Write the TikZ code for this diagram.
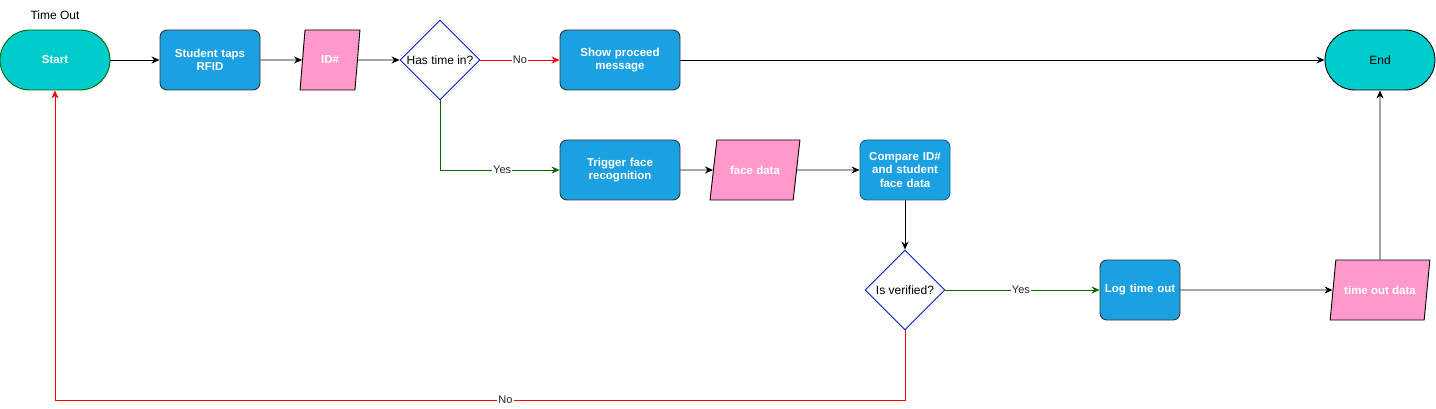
\documentclass[tikz,border=0pt]{standalone}
\usepackage{fontspec}
\setmainfont{Liberation Sans}
\usetikzlibrary{shapes.geometric,arrows.meta}
\definecolor{termfill}{HTML}{00CCCC}
\definecolor{procfill}{HTML}{1BA1E2}
\definecolor{iofill}{HTML}{FF99CC}
\definecolor{decline}{HTML}{001DBC}
\definecolor{yesline}{HTML}{006600}
\tikzset{
  term/.style={draw=black,fill=termfill,rounded corners=30pt,minimum width=110pt,minimum height=60pt},
  proc/.style={draw=black!80,fill=procfill,rounded corners=7pt,text=white,font=\fontsize{11.5}{13.5}\selectfont\bfseries,align=center,text width=90pt},
  io/.style={trapezium,trapezium stretches=true,draw=black,fill=iofill,text=white,font=\fontsize{11.5}{13.5}\selectfont\bfseries,minimum height=60pt},
  dec/.style={diamond,draw=decline,fill=white,minimum width=80pt,minimum height=80pt,inner sep=0pt},
  flow/.style={-{Stealth[length=8pt,width=7pt]},black},
  tag/.style={fill=white,inner sep=1pt,text=black!85,font=\fontsize{11}{12}\selectfont}
}
\begin{document}
\begin{tikzpicture}[x=1pt,y=-1pt,font=\fontsize{12}{14}\selectfont,line width=0.9pt]
    \useasboundingbox (0,0) rectangle (1436,409);
    %top row
    \node at (55,15) {Time Out};
    \node[term,draw=yesline,text=white,font=\fontsize{11.5}{13.5}\selectfont\bfseries] (start) at (55,60) {Start};
    \node[proc,minimum width=100pt,minimum height=60pt,text width=92pt] (taps) at (210,60) {Student taps\\RFID};
    \node[io,minimum width=60pt,trapezium left angle=80.5,trapezium right angle=99.5] (id) at (330,60) {ID\#};
    \node[dec] (timein) at (440,60) {Has time in?};
    \node[proc,minimum width=120pt,minimum height=60pt,text width=110pt] (proceed) at (620,60) {Show proceed\\message};
    \node[term] (end) at (1380,60) {End};
    %middle row
    \node[proc,minimum width=120pt,minimum height=60pt,text width=110pt] (trigger) at (620,170) {Trigger face\\recognition};
    \node[io,minimum width=90pt,trapezium left angle=71.6,trapezium right angle=108.4] (face) at (755,170) {face data};
    \node[proc,minimum width=90pt,minimum height=60pt,text width=82pt,draw=procfill!60!black] (compare) at (905,170) {Compare ID\#\\and student\\face data};
    %bottom row
    \node[dec] (verified) at (905,290) {Is verified?};
    \node[proc,minimum width=80pt,minimum height=60pt,text width=72pt] (log) at (1140,290) {Log time out};
    \node[io,minimum width=100pt,trapezium left angle=71.6,trapezium right angle=108.4] (outdata) at (1380,290) {time out data};
    \coordinate (loopA) at (905,400);
    \coordinate (loopB) at (55,400);
    %edges
    \draw[flow] (start) -- (taps);
    \draw[flow] (taps) -- (id);
    \draw[flow] (id) -- (timein);
    \draw[flow,red] (timein) -- node[tag] {No} (proceed);
    \draw[flow,yesline] (timein.south) |- node[tag,pos=0.76] {Yes} (trigger.west);
    \draw[flow] (proceed) -- (end);
    \draw[flow] (trigger) -- (face);
    \draw[flow] (face) -- (compare);
    \draw[flow] (compare) -- (verified);
    \draw[flow,yesline] (verified) -- node[tag,pos=0.49] {Yes} (log);
    \draw[flow] (log) -- (outdata);
    \draw[flow] (outdata) -- (end);
    \draw[flow,red] (verified.south) -- (loopA) -- node[tag,pos=0.47] {No} (loopB) -- (start.south);
\end{tikzpicture}
\end{document}
